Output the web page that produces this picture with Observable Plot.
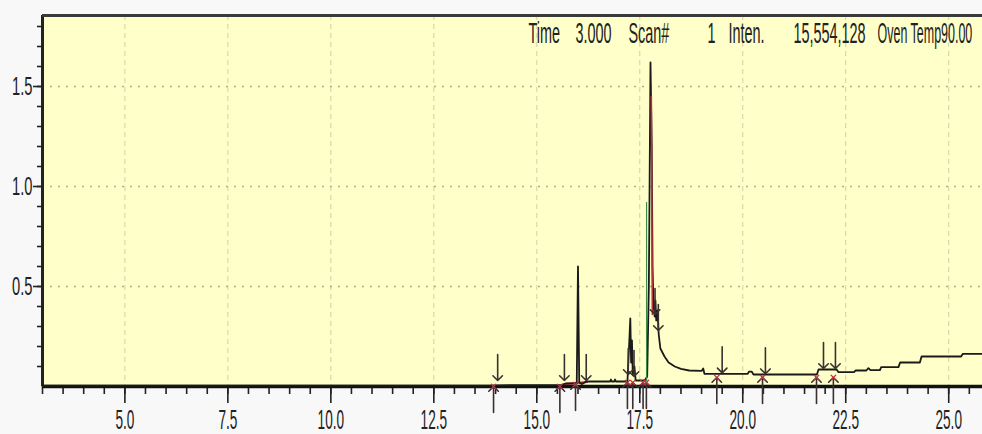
<!DOCTYPE html>
<html>
<head>
<meta charset="utf-8">
<script src="https://cdn.jsdelivr.net/npm/d3@7"></script>
<script src="https://cdn.jsdelivr.net/npm/@observablehq/plot@0.6"></script>
<style>
  html, body { margin: 0; padding: 0; background: #f8f8f8; }
  #chart { width: 982px; height: 434px; }
</style>
</head>
<body>
<div id="chart"></div>
<script>
// ---------- data ----------
const traceTime = [3.0, 13.9, 14.05, 15.6, 15.7, 15.97, 16.0, 16.03, 16.1, 16.2, 16.78, 16.8, 16.82, 16.88, 16.9, 16.92,
  17.2, 17.24, 17.27, 17.29, 17.31, 17.33, 17.37, 17.4, 17.62, 17.68, 17.72, 17.76, 17.79, 17.81, 17.83, 17.86,
  17.88, 17.9, 17.93, 17.96, 18.0, 18.1, 18.2, 18.35, 18.5, 18.7, 19.0, 19.04, 19.07, 20.12, 20.15, 20.22, 20.26,
  21.8, 21.84, 22.28, 22.32, 22.7, 22.74, 23.0, 23.05, 23.1, 23.33, 23.36, 23.78, 23.82, 24.3, 24.34, 25.3, 25.34, 25.9];
const traceInten = [0.004, 0.004, 0.006, 0.008, 0.015, 0.015, 0.60, 0.02, 0.012, 0.025, 0.025, 0.035, 0.025, 0.025, 0.035, 0.025,
  0.025, 0.2, 0.34, 0.12, 0.23, 0.06, 0.1, 0.03, 0.03, 0.05, 0.5, 1.62, 1.2, 0.6, 0.42, 0.35,
  0.43, 0.33, 0.38, 0.26, 0.19, 0.15, 0.12, 0.1, 0.088, 0.08, 0.078, 0.09, 0.063, 0.063, 0.074, 0.074, 0.06,
  0.06, 0.085, 0.085, 0.072, 0.072, 0.08, 0.08, 0.092, 0.082, 0.082, 0.097, 0.097, 0.12, 0.12, 0.15, 0.15, 0.163, 0.163];

// integration marker lines
const redTime = [17.78, 17.805];
const redInten = [1.45, 0.36];
const greenTime = [17.665, 17.665];
const greenInten = [0.92, 0.03];
const redBaseTime = [15.68, 16.22];
const redBaseInten = [0.012, 0.022];

// peak marker arrows: down arrows (head on the trace) and up arrows (below the axis)
const downArrowTime = [14.05, 15.67, 16.2, 17.22, 17.36, 17.87, 17.95, 19.5, 20.55, 21.96, 22.25];
const downArrowInten = [0.03, 0.03, 0.03, 0.06, 0.05, 0.36, 0.28, 0.068, 0.064, 0.09, 0.09];
const upArrowTime = [13.95, 15.56, 15.94, 17.2, 17.33, 17.58, 17.66, 19.37, 20.48, 21.79, 22.2];
const upArrowInten = [0.0, 0.0, 0.01, 0.02, 0.02, 0.02, 0.02, 0.045, 0.045, 0.045, 0.045];

// axes
const majorX = [5.0, 7.5, 10.0, 12.5, 15.0, 17.5, 20.0, 22.5, 25.0];
const minorX = d3.range(3, 25.9, 0.5);
const majorY = [0.5, 1.0, 1.5];
const minorY = d3.range(0.1, 1.85, 0.1);

// header line
const headerLabels = ["Time", "3.000", "Scan#", "1", "Inten.", "15,554,128", "Oven Temp90.00"];

// ---------- build ----------
const trace = traceTime.map((t, i) => ({t, v: traceInten[i]}));
const redLine = redTime.map((t, i) => ({t, v: redInten[i]}));
const greenLine = greenTime.map((t, i) => ({t, v: greenInten[i]}));
const redBase = redBaseTime.map((t, i) => ({t, v: redBaseInten[i]}));
const downArrows = downArrowTime.map((t, i) => ({t, v: downArrowInten[i]}));
const upArrows = upArrowTime.map((t, i) => ({t, v: upArrowInten[i]}));

const FONT = '"Liberation Sans", Arial, sans-serif';
const BG = "#ffffc9";
const INK = "#222";
const ARROW = "#3a3030";
const headerDx = [486, 533, 586, 665, 686, 751, 835];

const plot = Plot.plot({
  width: 982,
  height: 434,
  marginLeft: 42,
  marginRight: 0,
  marginTop: 15,
  marginBottom: 48,
  x: {domain: [3, 25.82], label: null},
  y: {domain: [0, 1.855], label: null},
  style: {background: "transparent", fontFamily: FONT, color: INK},
  marks: [
    Plot.frame({fill: BG, stroke: null}),
    Plot.gridX(majorX, {stroke: "#d2d0a8", strokeOpacity: 1, strokeDasharray: "5,4"}),
    Plot.gridY(majorY, {stroke: "#b0b084", strokeOpacity: 1, strokeWidth: 1.6, strokeDasharray: "2,6"}),
    Plot.axisY(minorY, {tickSize: 5, tickFormat: () => "", stroke: INK, strokeWidth: 1.6, label: null}),
    Plot.axisY(majorY, {tickSize: 9, tickPadding: 1, tickFormat: d3.format(".1f"), fontSize: 16, stroke: INK, strokeWidth: 1.6, fill: INK, label: null}),
    Plot.axisX(minorX, {tickSize: 8, tickFormat: () => "", stroke: INK, strokeWidth: 1.6, label: null}),
    Plot.axisX(majorX, {tickSize: 17, tickPadding: 6, tickFormat: d3.format(".1f"), fontSize: 16, stroke: INK, strokeWidth: 1.6, fill: INK, label: null}),
    Plot.ruleY([0], {stroke: "#111", strokeWidth: 3.5}),
    Plot.ruleX([3], {stroke: "#222", strokeWidth: 3}),
    Plot.ruleY([1.855], {stroke: "#3a3a3a", strokeWidth: 3}),
    Plot.line(redBase, {x: "t", y: "v", stroke: "#c8283c", strokeWidth: 2}),
    Plot.line(trace, {x: "t", y: "v", stroke: "#1a1a1a", strokeWidth: 1.8}),
    Plot.line(greenLine, {x: "t", y: "v", stroke: "#3e8a4a", strokeWidth: 1.2}),
    Plot.line(redLine, {x: "t", y: "v", stroke: "#b8343c", strokeWidth: 1.6}),
    Plot.vector(downArrows, {x: "t", y: "v", length: 26, rotate: 180, anchor: "end", shape: "arrow", r: 3.2, stroke: ARROW, strokeWidth: 1.6}),
    Plot.vector(upArrows, {x: "t", y: "v", length: 26, rotate: 0, anchor: "end", shape: "arrow", r: 3.2, stroke: ARROW, strokeWidth: 1.6}),
    Plot.dot(upArrows, {x: "t", y: "v", symbol: "times", r: 2.5, stroke: "#c03048", strokeWidth: 1.4}),
    ...headerLabels.map((s, i) => Plot.text([s], {
      text: d => d, frameAnchor: "top-left", dx: headerDx[i], dy: 18,
      textAnchor: "start", lineAnchor: "middle", fontSize: 16, fill: INK
    }))
  ]
});

document.getElementById("chart").appendChild(plot);

// narrow, tall screen font: squeeze horizontally and stretch vertically about each text's anchor
plot.querySelectorAll("text").forEach(t => {
  const g = t.closest("g[aria-label]");
  const label = g ? g.getAttribute("aria-label") : "";
  let sx = 0.9, sy = 1.8;                       // header
  if (label.includes("x-axis")) { sx = 0.85; sy = 1.7; }
  else if (label.includes("y-axis")) { sx = 0.92; sy = 1.6; }
  else if (t.textContent.startsWith("Oven")) { sx = 0.78; }
  const num = a => { const v = t.getAttribute(a); return v && !/em$/.test(v) ? parseFloat(v) || 0 : 0; };
  const x = num("x"), y = num("y");
  const tr = t.getAttribute("transform") || "";
  t.setAttribute("transform", `${tr} translate(${x},${y}) scale(${sx},${sy}) translate(${-x},${-y})`);
});
</script>
</body>
</html>
